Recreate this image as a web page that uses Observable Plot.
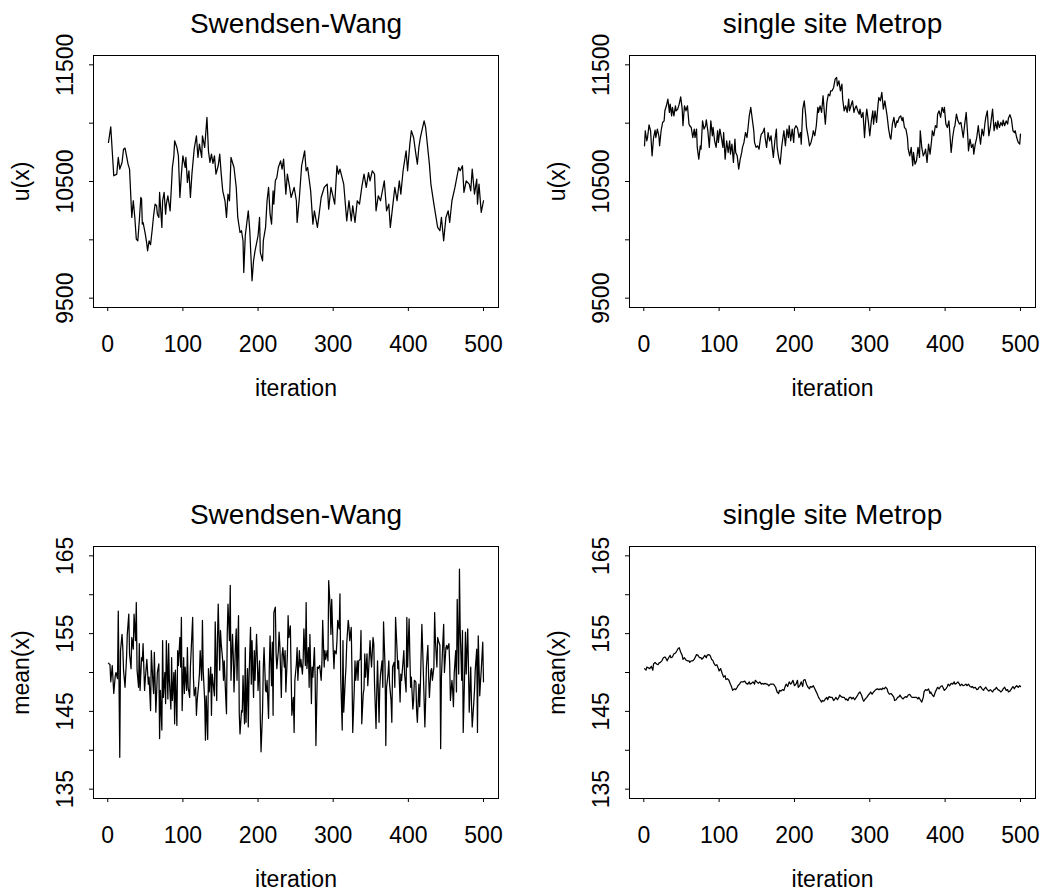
<!DOCTYPE html>
<html><head><meta charset="utf-8">
<script src="https://cdn.jsdelivr.net/npm/d3@7"></script>
<script src="https://cdn.jsdelivr.net/npm/@observablehq/plot@0.6"></script>
<style>
html,body{margin:0;padding:0;background:#fff;overflow:hidden}
#grid{position:relative;width:1044px;height:892px;background:#fff}
</style></head><body><div id="grid"></div>
<script>
// ---------- data ----------
const titles = ["Swendsen-Wang", "single site Metrop"];
const yLabels = ["u(x)", "mean(x)"];
const xLabel = "iteration";
const xTicks = [0, 100, 200, 300, 400, 500];
const uTicks = [9500, 10000, 10500, 11000, 11500];
const uTickLabels = [9500, 10500, 11500];
const meanTicks = [135, 140, 145, 150, 155, 160, 165];
const meanTickLabels = [135, 145, 155, 165];

// Swendsen-Wang u(x)
const swUIter = [1,4,8,12,14,16,19,21,23,25,27,29,32,34,36,38,40,42,44,45,46,47,50,52,53,55,57,58,59,61,63,65,66,68,69,72,73,75,77,78,80,83,85,86,88,89,92,94,96,98,100,103,104,106,108,110,112,115,118,120,122,125,126,129,132,134,136,138,140,142,144,147,149,151,153,156,158,160,162,164,168,171,173,176,178,180,181,183,187,189,192,194,196,200,202,203,206,207,210,212,214,216,218,220,221,223,225,227,230,232,234,237,239,242,244,248,251,252,255,258,262,264,266,270,273,275,279,281,284,288,292,294,297,300,302,305,307,309,314,318,321,324,326,329,332,335,338,341,344,347,349,352,355,357,360,363,368,371,374,376,379,382,385,388,390,393,397,399,402,404,407,410,412,414,416,419,421,423,428,430,434,439,442,444,447,450,453,455,458,462,467,469,472,474,477,481,483,485,488,491,492,494,497,500];
const swUVal = [10835,10969,10549,10563,10706,10606,10663,10777,10786,10720,10649,10606,10192,10335,10192,10006,9992,10163,10363,10349,10135,10149,10049,9963,9906,9992,9958,10020,10078,10206,10306,10292,10220,10192,10406,10106,10335,10406,10220,10306,10377,10249,10492,10620,10720,10849,10792,10720,10363,10563,10720,10620,10706,10492,10592,10363,10563,10777,10892,10706,10820,10706,10892,10792,11049,10763,10663,10735,10655,10720,10563,10635,10735,10563,10420,10335,10192,10392,10335,10706,10620,10449,10192,10063,10078,9992,9720,10035,10249,10078,9649,9820,9906,10035,10192,9892,9820,9992,10106,10335,10449,10220,10135,10420,10306,10506,10535,10620,10677,10606,10692,10392,10563,10449,10363,10449,10335,10149,10363,10635,10763,10592,10620,10420,10135,10249,10106,10206,10363,10449,10478,10263,10449,10363,10306,10635,10563,10606,10478,10163,10335,10163,10292,10149,10335,10306,10449,10563,10449,10577,10506,10592,10563,10249,10377,10335,10506,10249,10306,10106,10278,10449,10335,10506,10392,10592,10763,10592,10820,10935,10877,10735,10649,10792,10877,10963,11020,10963,10649,10478,10306,10106,10078,10192,9992,10192,10249,10149,10335,10449,10620,10592,10635,10406,10506,10478,10420,10606,10392,10520,10306,10478,10235,10335];

// single site Metropolis u(x)
const mpUIter = [1,2,4,5,7,9,11,13,15,16,18,20,21,23,25,27,28,30,32,34,35,37,38,40,42,43,45,47,49,51,52,54,56,58,60,61,63,65,67,68,70,71,73,75,76,78,80,82,83,85,87,89,91,92,94,96,98,99,101,103,105,106,108,110,112,114,115,117,119,121,122,124,126,128,130,131,133,135,137,138,140,142,144,146,147,149,151,153,155,156,158,160,161,163,165,167,169,170,172,174,176,177,179,181,183,185,186,188,190,192,193,195,197,199,200,202,204,206,208,209,211,213,215,216,218,220,222,224,225,227,229,231,232,234,236,238,240,241,243,245,247,248,250,252,254,256,257,259,261,263,264,266,268,270,272,273,275,277,279,280,282,284,286,287,289,291,293,295,296,298,300,302,304,305,307,309,311,312,314,316,318,320,321,323,325,327,328,330,332,334,336,337,339,341,343,344,346,348,350,351,353,355,357,358,360,362,364,366,367,369,371,373,374,376,378,380,382,383,385,387,389,390,392,394,396,398,399,401,403,405,406,408,410,412,413,415,417,419,421,422,424,426,428,430,431,433,435,437,438,440,442,444,445,447,449,451,453,454,456,458,460,461,463,465,467,469,470,472,474,476,477,479,481,483,484,486,488,490,492,493,495,497,499,500];
const mpUVal = [10806,10935,10849,10877,10986,10935,10720,10877,10940,10877,10949,10892,10806,10935,11006,11020,11106,11149,11206,11092,11163,11063,11135,11063,11149,11106,11120,11163,11226,11120,10978,11149,11106,11149,10992,10978,10963,10877,10949,10877,10949,10792,10692,10806,10777,11020,10949,10978,11029,10935,10792,11020,10892,10963,10849,10792,10935,10835,10949,10877,10792,10920,10692,10849,10749,10849,10735,10820,10663,10863,10749,10720,10606,10692,10749,10792,10835,10920,10877,10935,11063,11135,11035,10935,10835,10792,10806,10777,10877,10906,10920,10957,10877,10792,10920,10849,10892,10820,10706,10849,10949,10792,10706,10649,10792,10892,10935,10806,10949,10877,10978,10849,10949,10835,10949,10978,10957,10877,10920,10820,11120,11192,11063,10963,10892,10806,10835,10892,10935,10892,10978,11135,11092,11149,11092,11235,11063,10992,11177,11249,11235,11277,11277,11306,11377,11392,11320,11363,11277,11335,11206,11106,11149,11092,11206,11106,11149,11192,11092,11120,11149,11106,11077,11120,11049,11092,10877,11063,11120,11020,10892,11020,11106,10992,11106,11006,11163,11220,11192,11263,11120,11192,11149,11063,10949,10877,10863,10992,11049,10963,11020,11006,11049,11063,11020,11049,10963,10949,10877,10777,10720,10792,10635,10749,10649,10677,10792,10706,10935,10792,10720,10749,10777,10663,10820,10735,10849,10935,10892,10978,10963,11077,11106,11049,11135,11092,11135,10992,10963,11020,10935,10749,10877,10963,10978,11077,11020,10992,11006,10963,10877,10992,11092,10892,10763,10863,10792,10820,10735,10820,10877,10978,10920,10820,10949,10892,11006,11049,11106,10892,10963,11020,11120,10935,11006,10949,11020,10963,11006,10978,11026,10978,11020,10992,11043,11072,11035,10935,10920,10935,10877,10835,10820,10906];

// Swendsen-Wang mean(x)
const swMeanIter = [1,3,4,6,8,10,11,13,14,16,17,19,20,21,23,25,26,28,29,31,32,34,35,37,38,39,41,42,43,45,46,47,49,50,52,54,55,57,58,60,61,62,64,65,66,68,
69,70,72,73,74,76,77,78,80,81,82,84,85,86,88,89,90,92,93,94,96,97,98,99,101,102,103,105,106,107,109,110,111,113,114,115,117,118,119,121,122,123,125,126,127,129,130,131,133,134,135,137,138,139,141,142,143,145,146,147,149,150,151,153,154,155,157,158,159,160,162,163,164,166,167,168,170,171,172,174,175,176,178,179,180,182,183,184,186,187,188,190,191,192,194,195,196,198,199,200,202,203,204,206,207,208,210,211,212,214,215,216,218,219,220,221,223,224,225,227,228,229,231,232,233,235,236,237,239,240,241,243,244,245,247,248,249,251,252,253,255,256,257,259,260,261,263,264,265,267,268,269,271,272,273,275,276,277,279,280,281,282,284,285,286,288,289,290,292,293,294,296,297,298,300,301,302,304,305,306,308,309,310,312,313,314,316,317,318,320,321,322,324,325,326,328,329,330,332,333,334,336,337,338,340,341,342,343,345,346,347,349,350,351,353,354,355,357,358,359,361,362,363,365,366,367,369,370,371,373,374,375,377,378,379,381,382,383,385,386,387,389,390,391,393,394,395,397,398,399,401,402,403,404,406,407,408,410,411,412,414,415,416,418,419,420,422,423,424,426,427,428,430,431,432,434,435,436,438,439,440,442,443,444,446,447,448,450,451,452,454,455,456,458,459,460,461,463,464,465,467,468,469,471,472,473,475,476,477,479,480,481,483,484,485,487,488,489,491,492,493,495,496,497,499,500];
const swMeanVal = [151.2,151.0,148.8,150.9,147.3,149.6,150.0,149.2,157.9,139.1,152.8,154.9,153.2,150.3,148.1,151.9,154.9,157.5,152.4,150.5,154.5,153.0,157.5,154.1,159.0,150.3,148.1,153.7,147.7,151.9,151.5,153.7,147.7,149.2,151.7,148.5,149.4,145.1,152.8,148.8,147.3,152.6,144.9,147.3,150.0,151.1,
141.5,147.7,142.6,154.1,146.8,150.0,146.0,154.1,146.6,153.7,
149.0,145.3,151.9,146.4,150.0,143.4,150.3,143.2,152.8,150.9,
154.5,150.7,157.1,145.1,151.9,147.3,150.7,147.7,153.2,148.1,
146.8,150.7,152.8,157.1,149.4,147.0,148.1,144.5,146.4,148.5,
149.8,152.8,149.0,156.7,150.3,146.4,141.3,147.0,141.4,150.5,
147.5,150.7,144.5,149.8,147.9,147.0,156.5,146.4,154.1,158.8,
150.3,155.4,153.7,151.5,149.0,151.5,146.8,144.7,154.9,158.8,
154.1,161.2,149.0,154.9,152.2,147.5,153.7,155.6,149.0,157.3,
144.7,142.1,145.1,144.9,149.6,143.4,153.2,143.6,150.5,143.0,
149.2,155.8,148.5,154.1,146.8,152.8,149.0,154.9,151.9,147.7,
151.5,143.9,139.8,145.1,150.7,153.2,147.7,147.5,149.0,144.1,
150.7,154.7,148.3,153.9,144.5,157.7,158.4,152.4,150.5,152.8,
155.2,153.5,146.8,152.2,153.2,150.7,152.8,147.5,152.2,157.3,
154.5,156.0,149.8,144.5,146.8,142.3,149.0,151.1,153.2,149.0,
152.8,150.7,151.7,149.8,151.5,155.6,150.9,159.0,150.5,153.2,
148.1,154.9,146.0,150.7,149.4,153.2,149.2,140.6,150.7,150.5,
150.7,150.9,149.0,151.3,156.7,150.7,152.8,151.7,152.8,151.5,
161.8,158.4,154.9,159.4,153.0,150.5,152.8,152.4,154.1,156.7,
155.6,160.1,149.4,142.6,154.1,144.9,149.0,150.7,153.7,156.7,
155.8,154.1,155.8,149.8,142.3,147.7,151.5,149.0,151.5,149.0,
151.5,151.7,155.4,143.4,147.3,147.9,152.4,149.4,152.4,148.3,
150.0,154.1,152.2,150.7,154.5,153.7,148.5,142.8,147.7,151.5,
143.6,148.1,149.8,151.5,148.1,156.5,150.7,140.6,148.1,149.8,
151.5,148.5,146.4,143.6,150.7,151.3,148.1,157.1,152.8,150.5,
151.5,146.2,149.8,149.0,151.5,152.8,149.8,147.5,157.1,150.7,
156.9,152.2,148.1,149.4,145.3,146.4,149.0,148.8,145.1,143.6,
148.5,145.6,148.3,156.2,153.2,149.8,143.0,146.4,150.7,153.5,
149.4,146.8,150.3,150.5,149.0,150.7,157.7,154.1,150.7,154.5,
154.1,153.5,140.2,149.4,154.1,156.2,150.0,153.2,153.5,153.0,
153.7,151.1,146.4,149.0,147.7,145.6,149.8,152.8,147.5,159.4,
149.8,163.3,155.4,149.0,155.4,142.3,150.3,155.2,149.8,155.6,
150.7,144.9,150.7,146.0,143.0,146.0,147.7,150.3,153.0,142.3,
154.7,147.0,148.8,150.3,153.9,148.8];

// single site Metropolis mean(x)
const mpMeanIter = [1,3,4,6,8,10,12,13,15,17,19,20,22,24,26,28,29,31,33,35,36,38,40,42,44,45,47,49,51,52,54,56,58,60,61,63,65,67,68,70,72,74,76,77,79,81,83,84,86,88,90,92,93,95,97,99,100,102,104,106,108,109,111,113,115,116,118,120,122,124,125,127,129,131,132,134,136,138,140,141,143,145,147,148,150,152,154,156,157,159,161,163,164,166,168,170,172,173,175,177,179,180,182,184,186,188,189,191,193,195,196,198,200,202,204,205,207,209,211,212,214,216,218,220,221,223,225,227,228,230,232,234,236,237,239,241,243,244,246,248,250,252,253,255,257,259,260,262,264,266,268,269,271,273,275,276,278,280,282,284,285,287,289,291,292,294,296,298,300,301,303,305,307,308,310,312,314,316,317,319,321,323,324,326,328,330,332,333,335,337,339,340,342,344,346,348,349,351,353,355,356,358,360,362,364,365,367,369,371,372,374,376,378,380,381,383,385,387,388,390,392,394,396,397,399,401,403,404,406,408,410,412,413,415,417,419,420,422,424,426,428,429,431,433,435,436,438,440,442,444,445,447,449,451,452,454,456,458,460,461,463,465,467,468,470,472,474,476,477,479,481,483,484,486,488,490,492,493,495,497,499,500];
const mpMeanVal = [150.5,150.3,150.7,150.6,150.5,150.8,150.3,151.1,151.3,
151.1,151.0,151.2,151.3,151.5,151.9,152.0,151.9,151.5,
151.9,152.2,151.9,152.0,152.4,152.5,152.8,153.0,153.2,
152.6,152.2,151.7,151.9,151.6,151.5,151.5,151.3,151.5,
151.5,151.7,151.9,152.3,152.2,151.9,151.9,151.7,151.9,
152.2,151.9,152.2,152.3,152.2,151.7,151.5,151.2,150.9,
151.0,150.5,150.2,150.5,149.9,149.4,149.6,149.1,149.2,
149.0,148.5,148.3,147.7,147.9,147.8,148.1,148.3,148.5,
148.8,148.8,148.8,148.9,148.6,148.5,148.8,148.5,148.6,
148.8,148.5,149.0,148.8,148.6,148.8,148.5,148.6,148.5,
148.6,148.5,148.5,148.3,148.5,148.5,148.5,148.4,148.1,
147.5,147.3,147.7,147.6,147.8,147.7,148.3,148.5,148.2,
148.8,148.5,148.6,149.0,148.3,148.5,149.0,148.1,148.3,
148.8,148.2,149.0,149.1,148.5,148.1,147.9,148.2,148.1,
148.3,147.9,147.7,147.3,146.8,146.5,146.2,146.4,146.3,
146.6,146.8,146.5,146.9,146.8,146.8,146.4,146.5,146.8,
146.5,146.8,147.1,146.9,146.8,146.8,146.5,146.6,146.4,
146.8,146.8,146.6,146.8,146.5,146.8,147.1,147.3,147.5,
147.1,146.5,146.3,146.6,146.8,147.1,147.3,147.5,147.2,
147.5,147.7,147.8,147.9,147.8,147.9,147.8,148.0,147.9,
148.1,147.9,147.5,147.2,147.3,147.1,146.8,146.4,146.5,
146.8,146.9,147.1,146.8,146.6,146.8,146.9,146.8,147.1,
147.2,146.9,146.8,146.8,146.8,146.8,146.6,146.8,146.5,
146.2,146.8,147.5,147.8,147.7,147.9,147.3,147.5,147.1,
146.9,147.5,147.7,148.1,147.9,148.2,148.3,148.1,147.7,
147.9,148.2,148.5,148.3,148.6,148.5,148.8,148.5,148.6,
148.8,148.5,148.3,148.5,148.3,148.4,148.5,148.3,148.5,
148.2,148.1,148.2,148.0,148.1,147.8,147.9,148.1,148.2,
147.9,147.7,147.9,148.1,147.8,147.6,147.8,147.7,147.5,
147.8,147.9,148.1,147.8,147.7,147.5,147.7,147.9,148.1,
147.7,147.8,147.5,147.6,147.9,148.2,147.9,148.1,148.3,
148.1,148.3,148.2];

// ---------- drawing ----------
const grid = document.getElementById("grid");
const FONT = "'Liberation Sans', Arial, Helvetica, sans-serif";
const nIter = 500;
const xDomain = [1 - 0.04 * (nIter - 1), nIter + 0.04 * (nIter - 1)];
function pad(d) { const r = d[1] - d[0]; return [d[0] - 0.04 * r, d[1] + 0.04 * r]; }

function makePanel(cfg) {
  const n = Math.min(cfg.iter.length, cfg.val.length);
  const data = [];
  for (let i = 0; i < n; i++) data.push({iteration: cfg.iter[i], value: cfg.val[i]});
  const plot = Plot.plot({
    width: 522, height: 446,
    marginLeft: cfg.ml, marginRight: cfg.mr, marginTop: cfg.mt, marginBottom: cfg.mb,
    style: {fontFamily: FONT, fontSize: "23px", color: "#000", background: "#fff", overflow: "visible"},
    x: {domain: xDomain, label: null},
    y: {domain: pad(cfg.yRange), label: null},
    marks: [
      Plot.line(data, {x: "iteration", y: "value", stroke: "#000", strokeWidth: 1.25}),
      Plot.frame({stroke: "#000", strokeWidth: 1}),
      Plot.axisX({ticks: xTicks, tickSize: 4, tickPadding: 24, fontSize: 23, tickFormat: d => String(d), label: null}),
      Plot.axisY({ticks: cfg.yTicks, tickSize: 4, tickPadding: 17, tickRotate: -90, fontSize: 23,
        tickFormat: d => cfg.yTickLabels.includes(d) ? String(d) : "", label: null}),
      Plot.text([cfg.title], {text: d => d, frameAnchor: "top", dy: -23, lineAnchor: "bottom", fontSize: 28}),
      Plot.text([xLabel], {text: d => d, frameAnchor: "bottom", dy: 88, lineAnchor: "bottom", fontSize: 23}),
      Plot.text([cfg.yLabel], {text: d => d, frameAnchor: "left", dx: -65, rotate: -90, lineAnchor: "bottom", textAnchor: "middle", fontSize: 23})
    ]
  });
  plot.style.position = "absolute";
  plot.style.left = cfg.left + "px";
  plot.style.top = cfg.top + "px";
  grid.appendChild(plot);
}

makePanel({iter: swUIter, val: swUVal, title: titles[0], yLabel: yLabels[0], yRange: [9500, 11500], yTicks: uTicks, yTickLabels: uTickLabels,
  left: 0, top: 0, ml: 93, mr: 24, mt: 55, mb: 139});
makePanel({iter: mpUIter, val: mpUVal, title: titles[1], yLabel: yLabels[0], yRange: [9500, 11500], yTicks: uTicks, yTickLabels: uTickLabels,
  left: 522, top: 0, ml: 107, mr: 9, mt: 55, mb: 139});
makePanel({iter: swMeanIter, val: swMeanVal, title: titles[0], yLabel: yLabels[1], yRange: [135, 165], yTicks: meanTicks, yTickLabels: meanTickLabels,
  left: 0, top: 446, ml: 93, mr: 24, mt: 100, mb: 94});
makePanel({iter: mpMeanIter, val: mpMeanVal, title: titles[1], yLabel: yLabels[1], yRange: [135, 165], yTicks: meanTicks, yTickLabels: meanTickLabels,
  left: 522, top: 446, ml: 107, mr: 9, mt: 100, mb: 94});
</script></body></html>
